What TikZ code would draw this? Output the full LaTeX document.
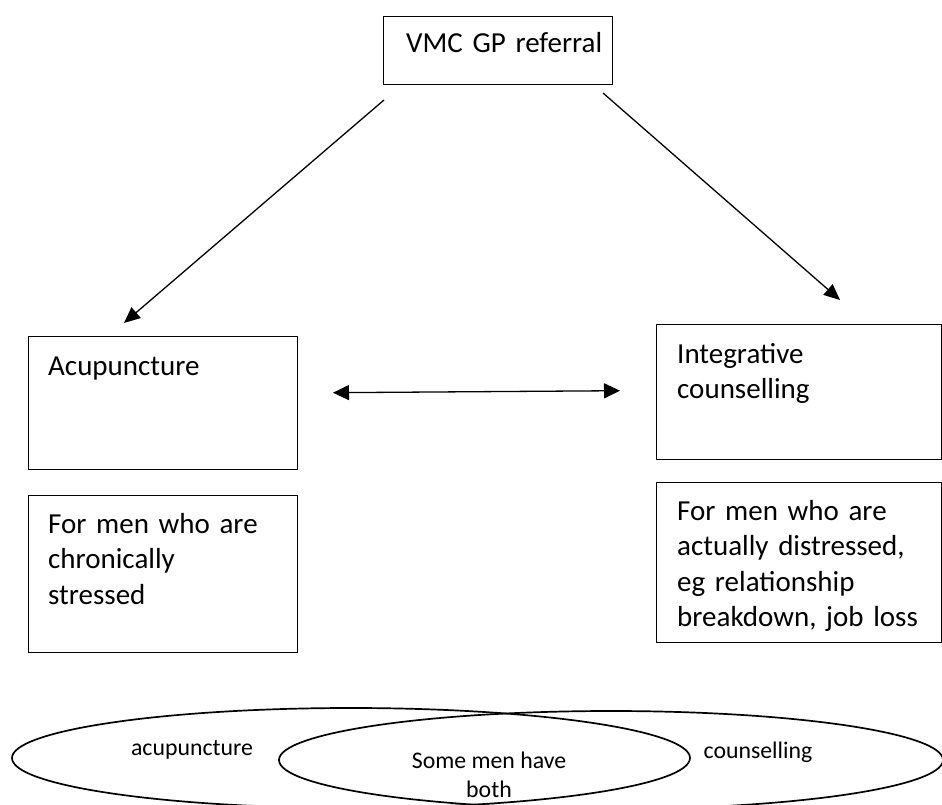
\documentclass[tikz,border=0pt]{standalone}
\usepackage{fontspec}
\setmainfont{Carlito}
\usetikzlibrary{arrows.meta,shapes.geometric}
\tikzset{
  box/.style={draw, line width=1.4pt, rectangle, inner sep=0pt, anchor=north west},
  bigtxt/.style={anchor=base west, inner sep=0pt, text width=280pt, align=left,
    font=\fontsize{29}{35.5}\selectfont},
  smalltxt/.style={anchor=center, inner sep=0pt, align=center,
    font=\fontsize{23.8}{29}\selectfont},
  setshape/.style={draw, ellipse, line width=1.7pt, inner sep=0pt},
  arr/.style={line width=1.3pt, -{Triangle[length=16pt,width=14pt]}},
  darr/.style={line width=1.3pt, {Triangle[length=16pt,width=15pt]}-{Triangle[length=16pt,width=15pt]}},
}
\begin{document}
\begin{tikzpicture}[x=1pt,y=-1pt]
\useasboundingbox (0,0) rectangle (942,805);
% top box
\node[box, minimum width=229pt, minimum height=68pt] (gp) at (383,16) {};
\node[bigtxt] (gpTxt) at (406,53) {VMC GP referral};
% left boxes
\node[box, minimum width=269pt, minimum height=133pt] (acu) at (28,336) {};
\node[bigtxt] (acuTxt) at (48,375) {Acupuncture};
\node[box, minimum width=269pt, minimum height=157pt] (acuWho) at (28,495) {};
\node[bigtxt] (acuWhoTxt) at (48,533) {For men who are\\chronically\\stressed};
% right boxes
\node[box, minimum width=285pt, minimum height=135pt] (cou) at (656,324) {};
\node[bigtxt] (couTxt) at (677,363) {Integrative\\counselling};
\node[box, minimum width=285pt, minimum height=160pt] (couWho) at (656,482) {};
\node[bigtxt] (couWhoTxt) at (677,520) {For men who are\\actually distressed,\\eg relationship\\breakdown, job loss};
% arrows
\coordinate (gpL) at (384,100);
\coordinate (acuIn) at (124,323);
\coordinate (gpR) at (603,93);
\coordinate (couIn) at (840,300);
\coordinate (midL) at (333,392.7);
\coordinate (midR) at (620,390.7);
\draw[arr] (gpL) -- (acuIn);
\draw[arr] (gpR) -- (couIn);
\draw[darr] (midL) -- (midR);
% venn ellipses
\node[setshape, minimum width=678pt, minimum height=100pt] (setA) at (351,758) {};
\node[setshape, minimum width=664pt, minimum height=98pt] (setB) at (611,760) {};
\node[smalltxt] (aTxt) at (192,750) {acupuncture};
\node[smalltxt] (bTxt) at (758,752) {counselling};
\node[smalltxt] (abTxt) at (489,775) {Some men have\\both};
\end{tikzpicture}
\end{document}
